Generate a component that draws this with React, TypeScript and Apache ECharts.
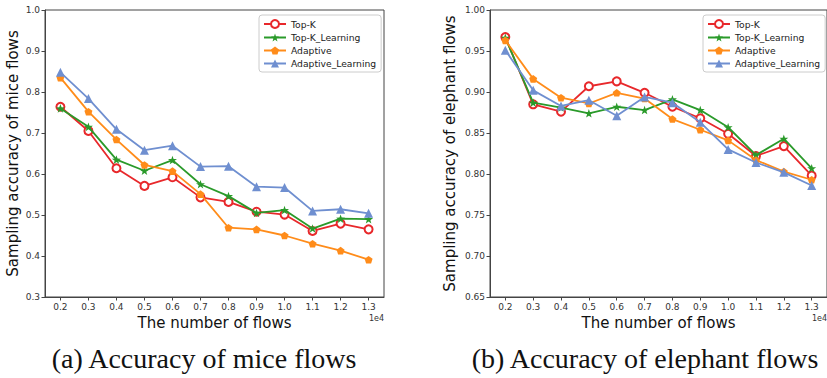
import React, { useEffect, useRef } from "react";
import * as echarts from "echarts";

const xValues = [0.2, 0.3, 0.4, 0.5, 0.6, 0.7, 0.8, 0.9, 1.0, 1.1, 1.2, 1.3];
const seriesNames = ["Top-K", "Top-K_Learning", "Adaptive", "Adaptive_Learning"];

const miceTopK = [0.764, 0.705, 0.614, 0.571, 0.592, 0.543, 0.532, 0.508, 0.501, 0.461, 0.479, 0.465];
const miceTopKLearning = [0.76, 0.715, 0.635, 0.608, 0.634, 0.575, 0.546, 0.505, 0.512, 0.467, 0.491, 0.49];
const miceAdaptive = [0.835, 0.752, 0.684, 0.622, 0.607, 0.551, 0.469, 0.465, 0.45, 0.43, 0.413, 0.391];
const miceAdaptiveLearning = [0.848, 0.784, 0.709, 0.658, 0.669, 0.618, 0.619, 0.569, 0.567, 0.51, 0.514, 0.504];

const eleTopK = [0.967, 0.885, 0.876, 0.907, 0.913, 0.899, 0.882, 0.868, 0.849, 0.822, 0.834, 0.798];
const eleTopKLearning = [0.966, 0.887, 0.881, 0.874, 0.882, 0.878, 0.891, 0.878, 0.857, 0.823, 0.843, 0.807];
const eleAdaptive = [0.963, 0.916, 0.893, 0.886, 0.899, 0.892, 0.867, 0.854, 0.841, 0.817, 0.803, 0.793];
const eleAdaptiveLearning = [0.951, 0.902, 0.883, 0.89, 0.871, 0.894, 0.887, 0.863, 0.83, 0.814, 0.802, 0.786];

const miceTicks = [0.3, 0.4, 0.5, 0.6, 0.7, 0.8, 0.9, 1.0];
const eleTicks = [0.65, 0.7, 0.75, 0.8, 0.85, 0.9, 0.95, 1.0];

const captions = ["(a) Accuracy of mice flows", "(b) Accuracy of elephant flows"];

const colors = ["#e8282b", "#2a9a2a", "#ff8c1a", "#6f8fd0"];
const STAR = "path://M50 0 L61.8 33.8 L97.6 34.5 L69 56.2 L79.4 90.5 L50 70 L20.6 90.5 L31 56.2 L2.4 34.5 L38.2 33.8 Z";
const PENTA = "path://M50 0 L97.6 34.5 L79.4 90.5 L20.6 90.5 L2.4 34.5 Z";
const symbols = ["emptyCircle", STAR, PENTA, "triangle"];
const symbolSizes = [8, 9, 8, 9];

const FONT = "DejaVu Sans";

export default function App() {
  const ref = useRef<HTMLDivElement>(null);
  useEffect(() => {
    if (!ref.current) return;
    const chart = echarts.init(ref.current, undefined, { renderer: "svg" });
    const xAxisBase = (gridIndex: number) => ({
      type: "value",
      gridIndex,
      min: 0.145,
      max: 1.355,
      name: "The number of flows",
      nameLocation: "middle",
      nameGap: 18,
      nameTextStyle: { fontFamily: FONT, fontSize: 15, color: "#111" },
      axisLine: { show: true, lineStyle: { color: "#444", width: 1 } },
      axisTick: { show: true, length: 3.5, customValues: xValues, lineStyle: { color: "#444" } },
      axisLabel: {
        customValues: xValues,
        margin: 5,
        fontFamily: FONT,
        fontSize: 9,
        color: "#333",
        formatter: (v: number) => v.toFixed(1),
      },
      splitLine: { show: false },
    });
    const yAxisBase = (gridIndex: number, ticks: number[], interval: number, name: string, gap: number, digits: number) => ({
      type: "value",
      gridIndex,
      min: ticks[0],
      max: ticks[ticks.length - 1],
      interval,
      name,
      nameLocation: "middle",
      nameGap: gap,
      nameTextStyle: { fontFamily: FONT, fontSize: 15, color: "#111" },
      axisLine: { show: true, lineStyle: { color: "#444", width: 1 } },
      axisTick: { show: true, length: 3.5, lineStyle: { color: "#444" } },
      axisLabel: {
        margin: 5,
        fontFamily: FONT,
        fontSize: 9,
        color: "#333",
        formatter: (v: number) => v.toFixed(digits),
      },
      splitLine: { show: false },
    });
    const groups = [
      [miceTopK, miceTopKLearning, miceAdaptive, miceAdaptiveLearning],
      [eleTopK, eleTopKLearning, eleAdaptive, eleAdaptiveLearning],
    ];
    const series: any[] = [];
    groups.forEach((g, gi) => {
      g.forEach((vals, si) => {
        series.push({
          type: "line",
          name: seriesNames[si],
          xAxisIndex: gi,
          yAxisIndex: gi,
          data: vals.map((v, i) => [xValues[i], v]),
          symbol: symbols[si],
          symbolSize: symbolSizes[si],
          symbolKeepAspect: true,
          showAllSymbol: true,
          lineStyle: { color: colors[si], width: 1.8 },
          itemStyle: { color: colors[si], borderColor: colors[si], borderWidth: si === 0 ? 1.3 : 0 },
          emphasis: { disabled: true },
          z: 2 + si,
        });
      });
    });
    const legendBase = (left: number) => ({
      orient: "vertical",
      left,
      top: 15,
      padding: [4, 5, 4, 4],
      itemWidth: 22,
      itemHeight: 10,
      itemGap: 4,
      backgroundColor: "#fff",
      borderColor: "#ccc",
      borderWidth: 1,
      borderRadius: 3,
      data: seriesNames,
      textStyle: { fontFamily: FONT, fontSize: 9.2, color: "#222" },
      selectedMode: false,
    });
    chart.setOption({
      animation: false,
      backgroundColor: "#fff",
      grid: [
        { left: 45, top: 10, width: 339, height: 287, show: true, borderColor: "#444", borderWidth: 1, backgroundColor: "transparent" },
        { left: 490, top: 10, width: 338, height: 287, show: true, borderColor: "#444", borderWidth: 1, backgroundColor: "transparent" },
      ],
      xAxis: [xAxisBase(0), xAxisBase(1)],
      yAxis: [
        yAxisBase(0, miceTicks, 0.1, "Sampling accuracy of mice flows", 25, 1),
        yAxisBase(1, eleTicks, 0.05, "Sampling accuracy of elephant flows", 33, 2),
      ],
      legend: [legendBase(259), legendBase(703)],
      series,
      graphic: [
        { type: "text", right: 827 - 384, top: 314, style: { text: "1e4", fontFamily: FONT, fontSize: 8, fill: "#333" } },
        { type: "text", right: 0, top: 314, style: { text: "1e4", fontFamily: FONT, fontSize: 8, fill: "#333" } },
        { type: "text", x: 204, y: 358, style: { text: captions[0], fontFamily: "Liberation Serif", fontSize: 28, fill: "#111", align: "center", verticalAlign: "middle" } },
        { type: "text", x: 645, y: 358, style: { text: captions[1], fontFamily: "Liberation Serif", fontSize: 28, fill: "#111", align: "center", verticalAlign: "middle" } },
      ],
    });
    return () => chart.dispose();
  }, []);
  return <div ref={ref} style={{ position: "absolute", left: 0, top: 0, width: 827, height: 378 }} />;
}
